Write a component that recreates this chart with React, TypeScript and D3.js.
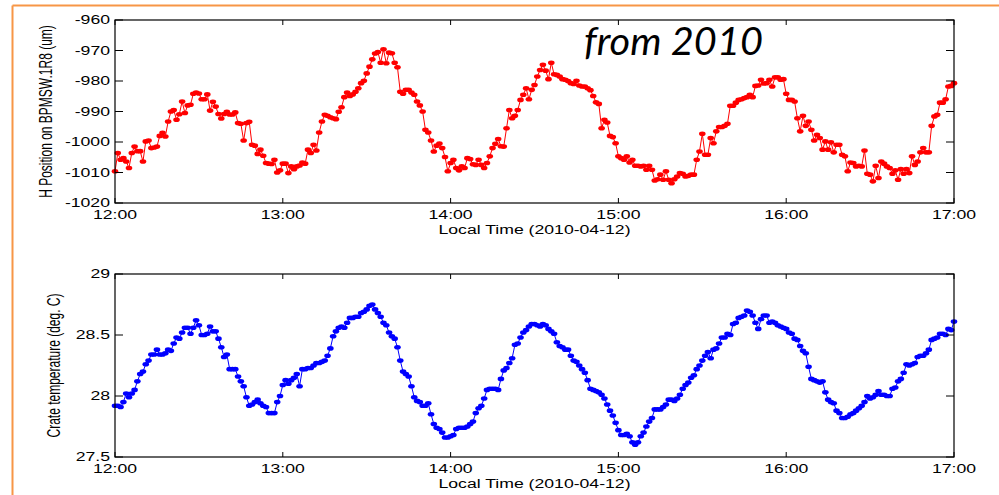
import React from 'react';
import * as d3 from 'd3';

const hourLabels = ['12:00', '13:00', '14:00', '15:00', '16:00', '17:00'];
const hourMinutes = [0, 60, 120, 180, 240, 300];
const topTicks = [-1020, -1010, -1000, -990, -980, -970, -960];
const topTickLabels = ['-1020', '-1010', '-1000', '-990', '-980', '-970', '-960'];
const botTicks = [27.5, 28, 28.5, 29];
const botTickLabels = ['27.5', '28', '28.5', '29'];

// H position on BPMSW.1R8 (um), one reading per minute from 12:00 to 17:00
const hPosition = [
  -1009.6, -1003.6, -1005.8, -1005.3, -1006.4, -1008.5, -1003.6, -1001.5, -1003, -1003,
  -1006.4, -999.8, -999.5, -1002, -1001.8, -1001.5, -998, -997, -998.2, -993.3,
  -990, -989.5, -992.7, -990.9, -986.7, -990.5, -988, -987.8, -984.2, -983.8,
  -984.1, -986, -986, -984.4, -989.7, -986.8, -988.4, -990.8, -992.3, -990.8,
  -990.1, -991, -991, -990.3, -993.8, -994, -999.5, -993.8, -993.4, -1000.9,
  -1001.2, -1003.9, -1002.5, -1004.5, -1006.9, -1007.1, -1007.2, -1005.8, -1010, -1009.3,
  -1007.1, -1007.1, -1010.2, -1008, -1008.9, -1008, -1007.7, -1006.7, -1007.1, -1002.5,
  -1003.6, -1000.9, -1002.8, -996.9, -993.3, -991.1, -991.4, -991.9, -992.2, -992.5,
  -990.1, -988.6, -985.3, -983.8, -984.9, -984.4, -983.5, -982.4, -980.7, -979.9,
  -977.5, -975.3, -972.9, -971, -970.5, -974, -969.6, -974.2, -970.7, -970.9,
  -974, -975.5, -983.5, -984.2, -982.9, -982.9, -983.8, -984.5, -986.7, -988,
  -990, -996, -996.9, -999.5, -1003.1, -1001.2, -1000.5, -1002, -1004.9, -1009.6,
  -1006.9, -1005.8, -1008.5, -1009.3, -1008, -1008.5, -1005.3, -1005.6, -1007.3, -1007.5,
  -1005.8, -1007.5, -1008.5, -1006.9, -1004.7, -1002, -1000.6, -999, -1001.4, -1001.5,
  -995.5, -989.5, -992.2, -991.4, -989.5, -986.2, -984.5, -982.4, -986, -982.9,
  -981.3, -978.5, -976.4, -974.7, -976.6, -979.4, -974, -977.8, -978, -978.5,
  -979.4, -979.6, -980, -980.7, -981, -979.9, -981.5, -981.8, -981.8, -982.4,
  -983, -984.9, -987, -987.5, -995.5, -992.7, -993.6, -998, -998.4, -1000.4,
  -1004.7, -1005.3, -1005.8, -1004.7, -1006.7, -1005.8, -1007.8, -1007.8, -1008, -1007.8,
  -1009.1, -1007.8, -1009.1, -1012.6, -1012.2, -1010.7, -1012.4, -1009.6, -1012.4, -1013.5,
  -1012.2, -1011.3, -1010.2, -1010.4, -1011.3, -1011.1, -1010.7, -1010.7, -1005.8, -1003.1,
  -997.3, -1004.2, -1004.2, -998.7, -1000.4, -996.5, -995.1, -995.1, -994.7, -994,
  -988.1, -988.1, -987.1, -986.2, -986, -985.6, -985.3, -984.5, -985.3, -981.6,
  -981.5, -979.6, -980.8, -980.7, -979.6, -981.8, -978.8, -978.8, -979.6, -979.4,
  -984.2, -986.2, -986.2, -986.7, -992.2, -996.5, -991.4, -994.7, -993.3, -996,
  -999.5, -997.6, -998.7, -1002.5, -999.8, -1002.5, -1000.1, -1003.4, -1000.9, -1000.9,
  -1004.2, -1004.7, -1009.6, -1006.7, -1006.9, -1008, -1007.8, -1008, -1002.8, -1010.4,
  -1010.7, -1012.9, -1007.8, -1011.8, -1006.4, -1007.1, -1008, -1008.5, -1010.4, -1009.3,
  -1012.4, -1008.9, -1010.4, -1008.9, -1010.2, -1004.7, -1007.5, -1006.4, -1003.4, -1002,
  -1003.4, -1003.4, -994.7, -991.6, -991.1, -987.1, -987.1, -986, -981.8, -981.6,
  -980.7,
];

// Crate temperature (deg. C), one reading per minute from 12:00 to 17:00
const crateTemp = [
  27.92, 27.92, 27.91, 27.95, 28.02, 27.99, 28.02, 28.05, 28.12, 28.18,
  28.2, 28.26, 28.29, 28.34, 28.34, 28.38, 28.34, 28.34, 28.35, 28.38,
  28.37, 28.43, 28.48, 28.47, 28.52, 28.56, 28.56, 28.51, 28.56, 28.62,
  28.58, 28.5, 28.5, 28.51, 28.57, 28.53, 28.53, 28.47, 28.4, 28.32,
  28.34, 28.22, 28.22, 28.22, 28.16, 28.12, 28.08, 27.99, 27.92, 27.93,
  27.95, 27.97, 27.94, 27.92, 27.91, 27.86, 27.86, 27.86, 27.95, 28.0,
  28.09, 28.13, 28.1, 28.13, 28.15, 28.18, 28.08, 28.22, 28.22, 28.23,
  28.23, 28.25, 28.27, 28.27, 28.28, 28.29, 28.33, 28.39, 28.49, 28.53,
  28.56, 28.57, 28.56, 28.6, 28.64, 28.64, 28.65, 28.65, 28.68, 28.69,
  28.71, 28.74, 28.75, 28.71, 28.68, 28.65, 28.6, 28.58, 28.52, 28.49,
  28.47, 28.4, 28.29, 28.2, 28.18, 28.16, 28.08, 27.99, 27.96, 27.95,
  27.92, 27.92, 27.94, 27.85, 27.77, 27.74, 27.73, 27.7, 27.66, 27.66,
  27.67, 27.68, 27.73, 27.74, 27.74, 27.74, 27.75, 27.77, 27.79, 27.86,
  27.9, 27.92, 27.98, 28.05, 28.06, 28.06, 28.06, 28.05, 28.14, 28.21,
  28.23, 28.27, 28.31, 28.42, 28.43, 28.48, 28.52, 28.54, 28.57, 28.59,
  28.59, 28.58, 28.57, 28.59, 28.58, 28.55, 28.53, 28.51, 28.44, 28.41,
  28.4, 28.38, 28.38, 28.33, 28.29, 28.28, 28.25, 28.22, 28.19, 28.13,
  28.06, 28.05, 28.04, 28.03, 28.01, 27.98, 27.93, 27.88, 27.84, 27.78,
  27.72, 27.68, 27.68, 27.69, 27.67, 27.62, 27.6, 27.62, 27.67, 27.7,
  27.75, 27.79, 27.82, 27.89, 27.89, 27.89, 27.91, 27.93, 27.97, 27.97,
  27.96, 27.98, 28.01, 28.06, 28.09, 28.11, 28.15, 28.17, 28.22, 28.25,
  28.29, 28.33, 28.36, 28.31, 28.38, 28.39, 28.43, 28.48, 28.48, 28.51,
  28.5, 28.59, 28.6, 28.64, 28.65, 28.66, 28.7, 28.69, 28.66, 28.6,
  28.55, 28.63, 28.66, 28.66, 28.6, 28.61, 28.6, 28.58, 28.57, 28.56,
  28.55, 28.52, 28.51, 28.47, 28.46, 28.41, 28.37, 28.35, 28.24, 28.14,
  28.13, 28.12, 28.11, 28.12, 28.03, 27.97, 27.95, 27.94, 27.88, 27.86,
  27.82, 27.82, 27.83, 27.85, 27.86, 27.88, 27.9, 27.92, 27.95, 28.0,
  27.98, 27.99, 28.01, 28.04, 28.01, 28.01, 28.0, 28.0, 28.06, 28.07,
  28.12, 28.14, 28.19, 28.26, 28.25, 28.26, 28.27, 28.32, 28.33, 28.33,
  28.35, 28.38, 28.46, 28.47, 28.48, 28.51, 28.51, 28.5, 28.55, 28.54,
  28.61,
];

const xLabel = 'Local Time (2010-04-12)';
const FONT = '"Liberation Sans", Arial, sans-serif';
const SX = 1.47;
const LEFT = 115;
const RIGHT = 954;

type PanelProps = {
  data: number[];
  domain: [number, number];
  ticks: number[];
  tickLabels: string[];
  top: number;
  bottom: number;
  color: string;
  ylabel: string;
  ylabelX: number;
};

function Panel({ data, domain, ticks, tickLabels, top, bottom, color, ylabel, ylabelX }: PanelProps) {
  const x = d3.scaleLinear().domain([0, 300]).range([LEFT, RIGHT]);
  const y = d3.scaleLinear().domain(domain).range([bottom, top]);
  const line = d3
    .line<number>()
    .x((_, i) => x(i))
    .y((d) => y(d));
  const yT = 8;
  const xT = 5;
  return (
    <g>
      <path d={line(data) || ''} fill="none" stroke={color} strokeWidth={1} />
      {data.map((d, i) => (
        <ellipse key={i} cx={x(i)} cy={y(d)} rx={3.3} ry={2.3} fill={color} />
      ))}
      <rect x={LEFT} y={top} width={RIGHT - LEFT} height={bottom - top} fill="none" stroke="#000" strokeWidth={1.2} />
      {ticks.map((t, i) => (
        <g key={'y' + i}>
          <line x1={LEFT} x2={LEFT + yT} y1={y(t)} y2={y(t)} stroke="#000" strokeWidth={1} />
          <line x1={RIGHT} x2={RIGHT - yT} y1={y(t)} y2={y(t)} stroke="#000" strokeWidth={1} />
          <text
            transform={`translate(${LEFT - 5},${y(t) + 4.3}) scale(${SX},1)`}
            textAnchor="end"
            fontFamily={FONT}
            fontSize={12}
            fill="#000"
          >
            {tickLabels[i]}
          </text>
        </g>
      ))}
      {hourMinutes.map((m, i) => (
        <g key={'x' + i}>
          <line x1={x(m)} x2={x(m)} y1={bottom} y2={bottom - xT} stroke="#000" strokeWidth={1} />
          <line x1={x(m)} x2={x(m)} y1={top} y2={top + xT} stroke="#000" strokeWidth={1} />
          <text
            transform={`translate(${x(m)},${bottom + 15.5}) scale(${SX},1)`}
            textAnchor="middle"
            fontFamily={FONT}
            fontSize={12}
            fill="#000"
          >
            {hourLabels[i]}
          </text>
        </g>
      ))}
      <text
        transform={`translate(${(LEFT + RIGHT) / 2},${bottom + 31}) scale(${SX},1)`}
        textAnchor="middle"
        fontFamily={FONT}
        fontSize={12}
        fill="#000"
      >
        {xLabel}
      </text>
      <text
        transform={`translate(${ylabelX},${(top + bottom) / 2}) scale(${SX},1) rotate(-90)`}
        textAnchor="middle"
        fontFamily={FONT}
        fontSize={12}
        fill="#000"
      >
        {ylabel}
      </text>
    </g>
  );
}

export default function App() {
  return (
    <svg
      width={999}
      height={495}
      style={{ position: 'absolute', left: 0, top: 0, background: '#fff' }}
    >
      <rect x={0} y={0} width={999} height={495} fill="#fff" />
      <line x1={12.5} x2={999} y1={5.5} y2={5.5} stroke="#F79646" strokeWidth={2} />
      <line x1={12.5} x2={12.5} y1={5.5} y2={495} stroke="#F79646" strokeWidth={2} />
      <Panel
        data={hPosition}
        domain={[-1020, -960]}
        ticks={topTicks}
        tickLabels={topTickLabels}
        top={20}
        bottom={203}
        color="#FF0000"
        ylabel="H Position on BPMSW.1R8 (um)"
        ylabelX={51.5}
      />
      <Panel
        data={crateTemp}
        domain={[27.5, 29]}
        ticks={botTicks}
        tickLabels={botTickLabels}
        top={274}
        bottom={457}
        color="#0000FF"
        ylabel="Crate temperature (deg. C)"
        ylabelX={60}
      />
      <text
        x={584}
        y={55}
        fontFamily="Lato, 'Open Sans', sans-serif"
        fontStyle="italic"
        fontSize={38}
        textLength={179}
        lengthAdjust="spacingAndGlyphs"
        fill="#000"
      >
        from 2010
      </text>
    </svg>
  );
}
